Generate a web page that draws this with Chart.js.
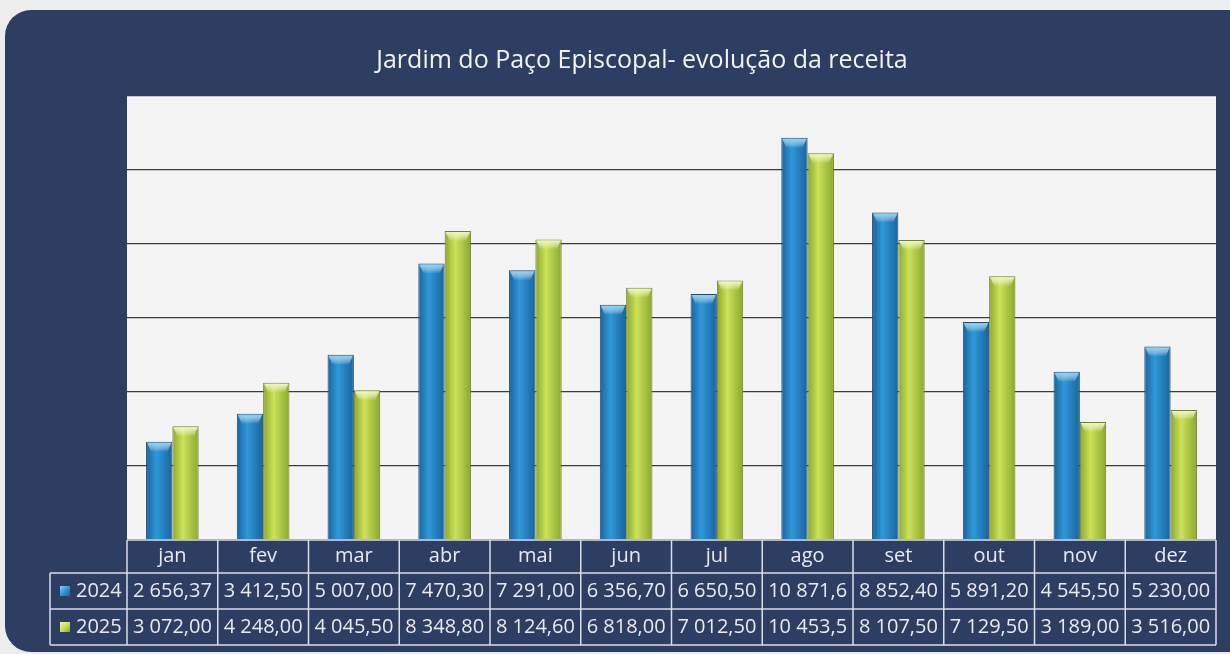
<!DOCTYPE html>
<html>
<head>
<meta charset="utf-8">
<script src="https://cdn.jsdelivr.net/npm/chart.js@4"></script>
<style>
  html, body { margin: 0; padding: 0; background: #ededed; }
  #wrap { width: 1230px; height: 654px; position: relative; }
</style>
</head>
<body>
<div id="wrap"><canvas id="receita-chart" width="1230" height="654"></canvas></div>
<script>
const chartTitle = 'Jardim do Paço Episcopal- evolução da receita'
const months = ['jan', 'fev', 'mar', 'abr', 'mai', 'jun', 'jul', 'ago', 'set', 'out', 'nov', 'dez']
const years = ['2024', '2025']
const values2024 = [2656.37, 3412.50, 5007.00, 7470.30, 7291.00, 6356.70, 6650.50, 10871.6, 8852.40, 5891.20, 4545.50, 5230.00]
const values2025 = [3072.00, 4248.00, 4045.50, 8348.80, 8124.60, 6818.00, 7012.50, 10453.5, 8107.50, 7129.50, 3189.00, 3516.00]
// texts as shown in the data table under the chart
const labels2024 = ['2 656,37', '3 412,50', '5 007,00', '7 470,30', '7 291,00', '6 356,70', '6 650,50', '10 871,6', '8 852,40', '5 891,20', '4 545,50', '5 230,00']
const labels2025 = ['3 072,00', '4 248,00', '4 045,50', '8 348,80', '8 124,60', '6 818,00', '7 012,50', '10 453,5', '8 107,50', '7 129,50', '3 189,00', '3 516,00']

const navy = '#2e3e62'
const catPct = 0.58
const barColors = [['#17649f', '#2f98d8', '#8fd0f4'], ['#8aa82c', '#cbe25a', '#f0f8b8']]

// cylinder-ish shading across each bar
function barGradient(dsIndex) {
    const [dark, light] = barColors[dsIndex]
    return (ctx) => {
        const chart = ctx.chart
        const x = chart.scales.x
        if (!x || ctx.dataIndex === undefined) return light
        const w = x.width / months.length * catPct / 2
        const center = x.getPixelForValue(ctx.dataIndex)
        if (!isFinite(w) || !isFinite(center) || w <= 0) return light
        const left = dsIndex == 0 ? center - w : center
        const g = chart.ctx.createLinearGradient(left, 0, left + w, 0)
        g.addColorStop(0, dark)
        g.addColorStop(0.4, light)
        g.addColorStop(1, dark)
        return g
    }
}

const panelPlugin = {
    id: 'panel',
    beforeDraw(chart) {
        const c = chart.ctx
        const area = chart.chartArea
        c.save()
        c.fillStyle = '#ededed'
        c.fillRect(0, 0, chart.width, chart.height)
        c.fillStyle = navy
        c.beginPath()
        c.roundRect(5, 10, 1260, 642, 26)
        c.fill()
        c.fillStyle = '#f4f4f4'
        c.fillRect(area.left, area.top, area.right - area.left, area.bottom - area.top)
        c.fillStyle = '#f2f2f4'
        c.font = '25px "Open Sans"'
        c.textAlign = 'center'
        c.textBaseline = 'middle'
        c.fillText(chartTitle, 642, 61)
        c.restore()
    }
}

// light bevel on top of each bar
const bevelPlugin = {
    id: 'bevel',
    afterDatasetsDraw(chart) {
        const c = chart.ctx
        c.save()
        chart.data.datasets.forEach((ds, d) => {
            chart.getDatasetMeta(d).data.forEach(bar => {
                const l = bar.x - bar.width / 2 + 1
                const r = bar.x + bar.width / 2 - 1
                const t = bar.y + 1
                const g = c.createLinearGradient(0, t, 0, t + 9)
                g.addColorStop(0, barColors[d][2])
                g.addColorStop(1, 'rgba(255,255,255,0)')
                c.fillStyle = g
                c.beginPath()
                c.moveTo(l, t)
                c.lineTo(r, t)
                c.lineTo(r - 4, t + 9)
                c.lineTo(l + 4, t + 9)
                c.closePath()
                c.fill()
            })
        })
        c.restore()
    }
}

const tablePlugin = {
    id: 'dataTable',
    afterDraw(chart) {
        const c = chart.ctx
        const x = chart.scales.x
        const w = x.width / months.length
        const rows = [540, 573, 609, 645]
        const labelLeft = 50
        c.save()
        c.strokeStyle = '#dcdcec'
        c.lineWidth = 1.5
        // horizontal lines
        c.beginPath()
        c.moveTo(x.left, rows[0]); c.lineTo(x.right, rows[0])
        for (let r = 1; r < rows.length; r++) {
            c.moveTo(labelLeft, rows[r]); c.lineTo(x.right, rows[r])
        }
        // vertical lines
        for (let i = 0; i <= months.length; i++) {
            const px = x.left + i * w
            c.moveTo(px, rows[0]); c.lineTo(px, rows[3])
        }
        c.moveTo(labelLeft, rows[1]); c.lineTo(labelLeft, rows[3])
        c.stroke()

        c.fillStyle = '#e9e9f2'
        c.font = '20px "Open Sans"'
        c.textAlign = 'center'
        c.textBaseline = 'middle'
        months.forEach((m, i) => {
            const cx = x.getPixelForValue(i)
            c.fillText(m, cx, (rows[0] + rows[1]) / 2)
            c.fillText(labels2024[i], cx, (rows[1] + rows[2]) / 2)
            c.fillText(labels2025[i], cx, (rows[2] + rows[3]) / 2)
        })
        // row labels with legend keys
        years.forEach((yr, r) => {
            const cy = (rows[r + 1] + rows[r + 2]) / 2
            const g = c.createLinearGradient(60, cy - 5, 70, cy + 5)
            g.addColorStop(0, barColors[r][2])
            g.addColorStop(0.5, barColors[r][1])
            g.addColorStop(1, barColors[r][0])
            c.fillStyle = g
            c.fillRect(60, cy - 5, 10, 10)
            c.fillStyle = '#e9e9f2'
            c.textAlign = 'left'
            c.fillText(yr, 76, cy)
        })
        c.restore()
    }
}

const data = {
    labels: months,
    datasets: [{
        label: years[0],
        data: values2024,
        backgroundColor: barGradient(0),
        borderColor: '#27496b',
        borderWidth: 1,
        categoryPercentage: catPct,
        barPercentage: 1.0
    }, {
        label: years[1],
        data: values2025,
        backgroundColor: barGradient(1),
        borderColor: '#6f7f3a',
        borderWidth: 1,
        categoryPercentage: catPct,
        barPercentage: 1.0
    }]
}

const config = {
    type: 'bar',
    data: data,
    options: {
        responsive: false,
        animation: false,
        layout: {
            padding: { left: 127, right: 14, top: 96, bottom: 114 }
        },
        plugins: {
            legend: { display: false },
            title: { display: false },
            tooltip: { enabled: false }
        },
        scales: {
            x: { display: false },
            y: {
                min: 0,
                max: 12000,
                ticks: { display: false, stepSize: 2000 },
                border: { display: false },
                grid: { color: '#3c3c3c', lineWidth: 1.2, drawTicks: false }
            }
        }
    },
    plugins: [panelPlugin, bevelPlugin, tablePlugin]
}

const chart = new Chart(document.getElementById('receita-chart'), config)
</script>
</body>
</html>
